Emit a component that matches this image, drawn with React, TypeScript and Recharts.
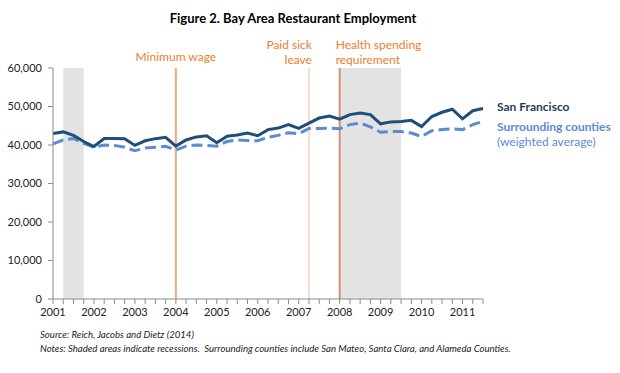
import { CartesianGrid, Line, LineChart, ReferenceArea, ReferenceLine, XAxis, YAxis } from 'recharts'

const YEARS = ['2001', '2002', '2003', '2004', '2005', '2006', '2007', '2008', '2009', '2010', '2011']

// quarterly employment, 2001 Q1 .. 2011 Q3
const SAN_FRANCISCO = [
  43000, 43400, 42500, 40900,
  39600, 41700, 41700, 41650,
  39900, 41100, 41650, 42000,
  39700, 41300, 42100, 42400,
  40600, 42300, 42600, 43100,
  42400, 44000, 44400, 45300,
  44300, 45700, 47000, 47500,
  46700, 47900, 48300, 47900,
  45500, 46000, 46100, 46400,
  44800, 47400, 48500, 49300,
  46800, 48900, 49500,
]

const SURROUNDING = [
  40300, 41300, 41700, 40400,
  39400, 40000, 39900, 39400,
  38500, 39200, 39400, 39650,
  38700, 39700, 40000, 39900,
  39700, 40900, 41300, 41200,
  41100, 42000, 42500, 43200,
  42900, 44300, 44300, 44400,
  44200, 45300, 45700, 44700,
  43300, 43500, 43500, 43100,
  42200, 43700, 44000, 44200,
  44000, 45300, 46100,
]

const Y_TICKS = [0, 10000, 20000, 30000, 40000, 50000, 60000]

// recessions, as quarter indexes
const RECESSIONS = [
  { from: 1, to: 3 },
  { from: 28, to: 34 },
]

const POLICIES = [
  { at: 12, lines: ['Minimum wage'], color: '#f3a87c', anchor: 'middle' },
  { at: 25, lines: ['Paid sick', 'leave'], color: '#fbdccb', anchor: 'end' },
  { at: 28, lines: ['Health spending', 'requirement'], color: '#d4906f', anchor: 'start' },
]

const data = SAN_FRANCISCO.map((sf, i) => ({ i, sf, sc: SURROUNDING[i] }))
const quarterTicks = data.map((d) => d.i)

const FONT = 'Lato, "Open Sans", sans-serif'
const ORANGE = '#ed7d31'

function PolicyLabel({ viewBox, lines, anchor }: any) {
  const { x, y } = viewBox
  const dx = anchor === 'end' ? 3 : anchor === 'start' ? -4 : 0
  const first = lines.length > 1 ? y - 19 : y - 7
  return (
    <text x={x + dx} y={first} textAnchor={anchor} fill={ORANGE} fontSize={12} fontFamily={FONT}>
      {lines.map((l: string, k: number) => (
        <tspan key={l} x={x + dx} dy={k === 0 ? 0 : 15}>
          {l}
        </tspan>
      ))}
    </text>
  )
}

export default function App() {
  return (
    <div style={{ position: 'relative', width: 620, height: 373, background: '#fff', fontFamily: FONT }}>
      <style>{'body{margin:0}'}</style>
      <div style={{ position: 'absolute', left: 0, width: 586, top: 10, textAlign: 'center', fontWeight: 700, fontSize: 13 }}>
        Figure 2. Bay Area Restaurant Employment
      </div>
      <LineChart width={620} height={373} data={data} margin={{ top: 68, right: 137, left: 0, bottom: 0 }}>
        <CartesianGrid stroke="none" />
        {RECESSIONS.map((r) => (
          <ReferenceArea key={r.from} x1={r.from} x2={r.to} y1={0} y2={60000} fill="#e3e3e3" fillOpacity={1} stroke="none" />
        ))}
        {POLICIES.map((p) => (
          <ReferenceLine
            key={p.at}
            x={p.at}
            stroke={p.color}
            strokeWidth={2}
            label={<PolicyLabel lines={p.lines} anchor={p.anchor} />}
          />
        ))}
        <XAxis
          type="number"
          dataKey="i"
          domain={[0, 42]}
          ticks={quarterTicks}
          interval={0}
          tickFormatter={(v: number) => (v % 4 === 0 ? YEARS[v / 4] : '')}
          stroke="#8c8c8c"
          tickSize={5}
          tickMargin={4}
          height={74}
          tick={{ fill: '#222', fontSize: 11, fontFamily: FONT }}
        />
        <YAxis
          domain={[0, 60000]}
          ticks={Y_TICKS}
          width={53}
          stroke="#8c8c8c"
          tickSize={5}
          tickMargin={6}
          tickFormatter={(v: number) => v.toLocaleString('en-US')}
          tick={{ fill: '#222', fontSize: 11, fontFamily: FONT }}
        />
        <Line
          dataKey="sc"
          stroke="#5b8bd0"
          strokeWidth={3}
          strokeDasharray="11 5"
          dot={false}
          isAnimationActive={false}
        />
        <Line dataKey="sf" stroke="#1f4e79" strokeWidth={3} dot={false} isAnimationActive={false} />
      </LineChart>
      <div style={{ position: 'absolute', left: 497, top: 99, fontSize: 12, lineHeight: '15px', whiteSpace: 'nowrap' }}>
        <div style={{ color: '#1f3a5f', fontWeight: 700 }}>San Francisco</div>
        <div style={{ color: '#5b8bd0', fontWeight: 700, marginTop: 5 }}>Surrounding counties</div>
        <div style={{ color: '#5b8bd0' }}>(weighted average)</div>
      </div>
      <div style={{ position: 'absolute', left: 40, top: 328, fontSize: 9.6, fontStyle: 'italic', color: '#222', lineHeight: '14px', whiteSpace: 'nowrap' }}>
        <div>Source: Reich, Jacobs and Dietz (2014)</div>
        <div>Notes: Shaded areas indicate recessions.&nbsp; Surrounding counties include San Mateo, Santa Clara, and Alameda Counties.</div>
      </div>
    </div>
  )
}
